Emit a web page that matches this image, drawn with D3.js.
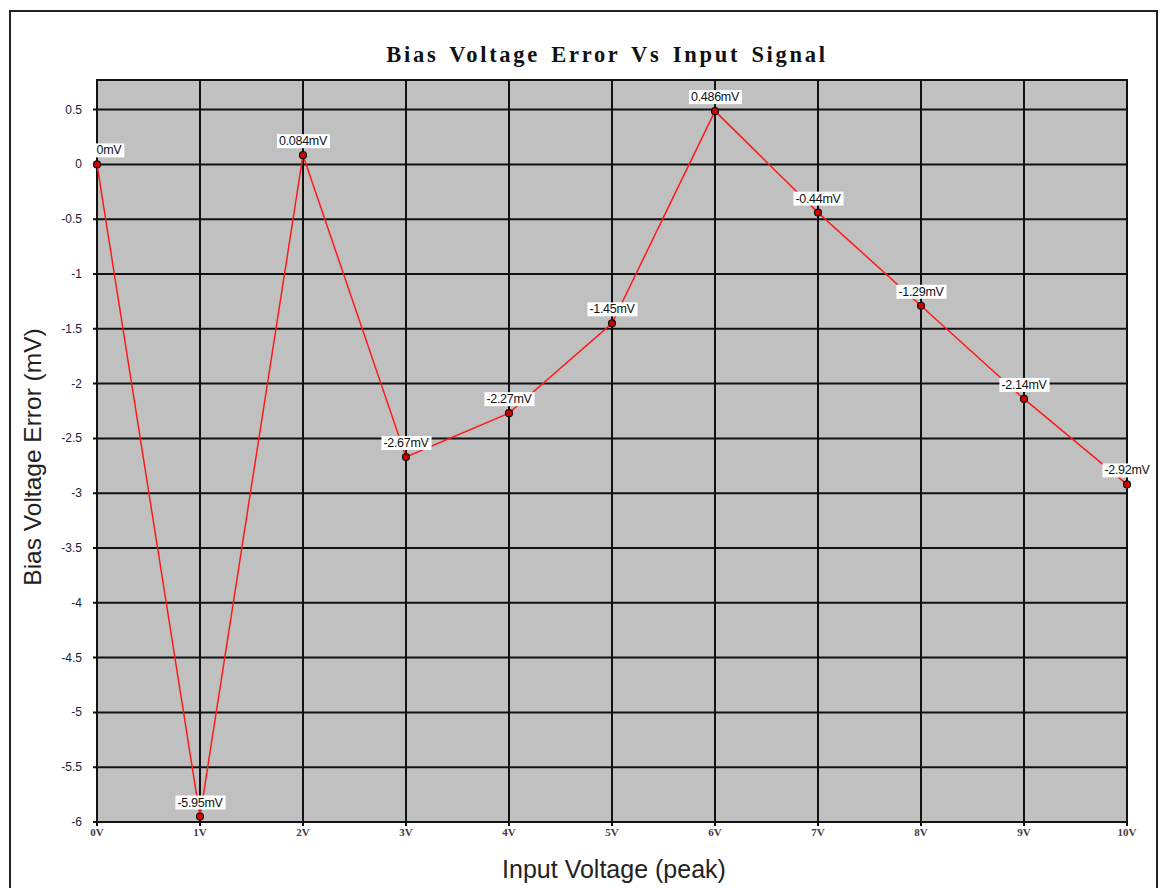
<!DOCTYPE html>
<html>
<head>
<meta charset="utf-8">
<script src="https://cdn.jsdelivr.net/npm/d3@7"></script>
<style>
  body { margin: 0; background: #fff; }
  svg { display: block; }
</style>
</head>
<body>
<script>
// Bias voltage error vs input signal

var width = 1163;
var height = 888;

var inputVolts = [0, 1, 2, 3, 4, 5, 6, 7, 8, 9, 10];
var errorMv = [0, -5.95, 0.084, -2.67, -2.27, -1.45, 0.486, -0.44, -1.29, -2.14, -2.92];
var pointLabels = ["0mV", "-5.95mV", "0.084mV", "-2.67mV", "-2.27mV", "-1.45mV",
                   "0.486mV", "-0.44mV", "-1.29mV", "-2.14mV", "-2.92mV"];
var xTickLabels = ["0V", "1V", "2V", "3V", "4V", "5V", "6V", "7V", "8V", "9V", "10V"];
var yTicks = [0.5, 0, -0.5, -1, -1.5, -2, -2.5, -3, -3.5, -4, -4.5, -5, -5.5, -6];

var plot = { left: 97, top: 80, right: 1127, bottom: 822 };

var xScale = d3.scaleLinear()
               .domain([0, 10])
               .range([plot.left, plot.right]);

var yScale = d3.scaleLinear()
               .domain([-6, 0.77])
               .range([plot.bottom, plot.top]);

var svg = d3.select("body")
            .append("svg")
            .attr("width", width)
            .attr("height", height);

// outer frame
svg.append("rect")
   .attr("x", 10)
   .attr("y", 11)
   .attr("width", 1147)
   .attr("height", 900)
   .attr("fill", "white")
   .attr("stroke", "#222")
   .attr("stroke-width", 2);

// title
svg.append("text")
   .attr("x", 607)
   .attr("y", 62)
   .attr("text-anchor", "middle")
   .attr("font-family", "'Liberation Serif', serif")
   .attr("font-weight", "bold")
   .attr("font-size", "22.5px")
   .attr("letter-spacing", "2.7px")
   .attr("word-spacing", "3px")
   .attr("fill", "#111")
   .text("Bias Voltage Error Vs Input Signal");

// plot background
svg.append("rect")
   .attr("x", plot.left)
   .attr("y", plot.top)
   .attr("width", plot.right - plot.left)
   .attr("height", plot.bottom - plot.top)
   .attr("fill", "#c0c0c0");

// grid lines
svg.append("g")
   .selectAll("line")
   .data(inputVolts)
   .enter()
   .append("line")
   .attr("x1", function(d){ return xScale(d); })
   .attr("x2", function(d){ return xScale(d); })
   .attr("y1", plot.top)
   .attr("y2", plot.bottom + 4)
   .attr("stroke", "#111")
   .attr("stroke-width", 2);

svg.append("g")
   .selectAll("line")
   .data(yTicks)
   .enter()
   .append("line")
   .attr("x1", plot.left - 4)
   .attr("x2", plot.right)
   .attr("y1", function(d){ return yScale(d); })
   .attr("y2", function(d){ return yScale(d); })
   .attr("stroke", "#111")
   .attr("stroke-width", 2);

// plot border
svg.append("rect")
   .attr("x", plot.left)
   .attr("y", plot.top)
   .attr("width", plot.right - plot.left)
   .attr("height", plot.bottom - plot.top)
   .attr("fill", "none")
   .attr("stroke", "#111")
   .attr("stroke-width", 2);

// y tick labels
svg.append("g")
   .selectAll("text")
   .data(yTicks)
   .enter()
   .append("text")
   .attr("x", 82)
   .attr("y", function(d){ return yScale(d) + 4; })
   .attr("text-anchor", "end")
   .attr("font-family", "'Liberation Sans', Arial, sans-serif")
   .attr("font-size", "12px")
   .attr("fill", "#1a1a3a")
   .text(function(d){ return d; });

// x tick labels
svg.append("g")
   .selectAll("text")
   .data(inputVolts)
   .enter()
   .append("text")
   .attr("x", function(d){ return xScale(d); })
   .attr("y", 836)
   .attr("text-anchor", "middle")
   .attr("font-family", "'Liberation Serif', serif")
   .attr("font-size", "11px")
   .attr("font-weight", "bold")
   .attr("fill", "#4a3a3a")
   .text(function(d, i){ return xTickLabels[i]; });

// axis titles
svg.append("text")
   .attr("x", 614)
   .attr("y", 878)
   .attr("text-anchor", "middle")
   .attr("font-family", "'Liberation Sans', Arial, sans-serif")
   .attr("font-size", "25px")
   .attr("fill", "#222")
   .text("Input Voltage (peak)");

svg.append("text")
   .attr("transform", "translate(41,457) rotate(-90)")
   .attr("text-anchor", "middle")
   .attr("font-family", "'Liberation Sans', Arial, sans-serif")
   .attr("font-size", "24.5px")
   .attr("fill", "#222")
   .text("Bias Voltage Error (mV)");

// series line
var line = d3.line()
             .x(function(d, i){ return xScale(inputVolts[i]); })
             .y(function(d){ return yScale(d); });

svg.append("path")
   .datum(errorMv)
   .attr("d", line)
   .attr("fill", "none")
   .attr("stroke", "#ff1a1a")
   .attr("stroke-width", 1.5);

// markers
svg.append("g")
   .selectAll("circle")
   .data(errorMv)
   .enter()
   .append("circle")
   .attr("cx", function(d, i){ return xScale(inputVolts[i]); })
   .attr("cy", function(d){ return yScale(d); })
   .attr("r", 3.5)
   .attr("fill", "#d00000")
   .attr("stroke", "#111")
   .attr("stroke-width", 1.2);

// point labels
var labels = svg.append("g")
                .selectAll("g")
                .data(errorMv)
                .enter()
                .append("g")
                .attr("transform", function(d, i){
                  var dx = i === 0 ? 12 : 0;
                  return "translate(" + (xScale(inputVolts[i]) + dx) + "," + (yScale(d) - 14) + ")";
                });

labels.append("text")
      .attr("text-anchor", "middle")
      .attr("font-family", "'Liberation Sans', Arial, sans-serif")
      .attr("font-size", "12.5px")
      .attr("letter-spacing", "-0.3px")
      .attr("fill", "#111")
      .attr("y", 4)
      .text(function(d, i){ return pointLabels[i]; })
      .each(function(){
        var bb = this.getBBox();
        d3.select(this.parentNode)
          .insert("rect", "text")
          .attr("x", bb.x - 2)
          .attr("y", bb.y)
          .attr("width", bb.width + 4)
          .attr("height", bb.height)
          .attr("fill", "white");
      });
</script>
</body>
</html>
